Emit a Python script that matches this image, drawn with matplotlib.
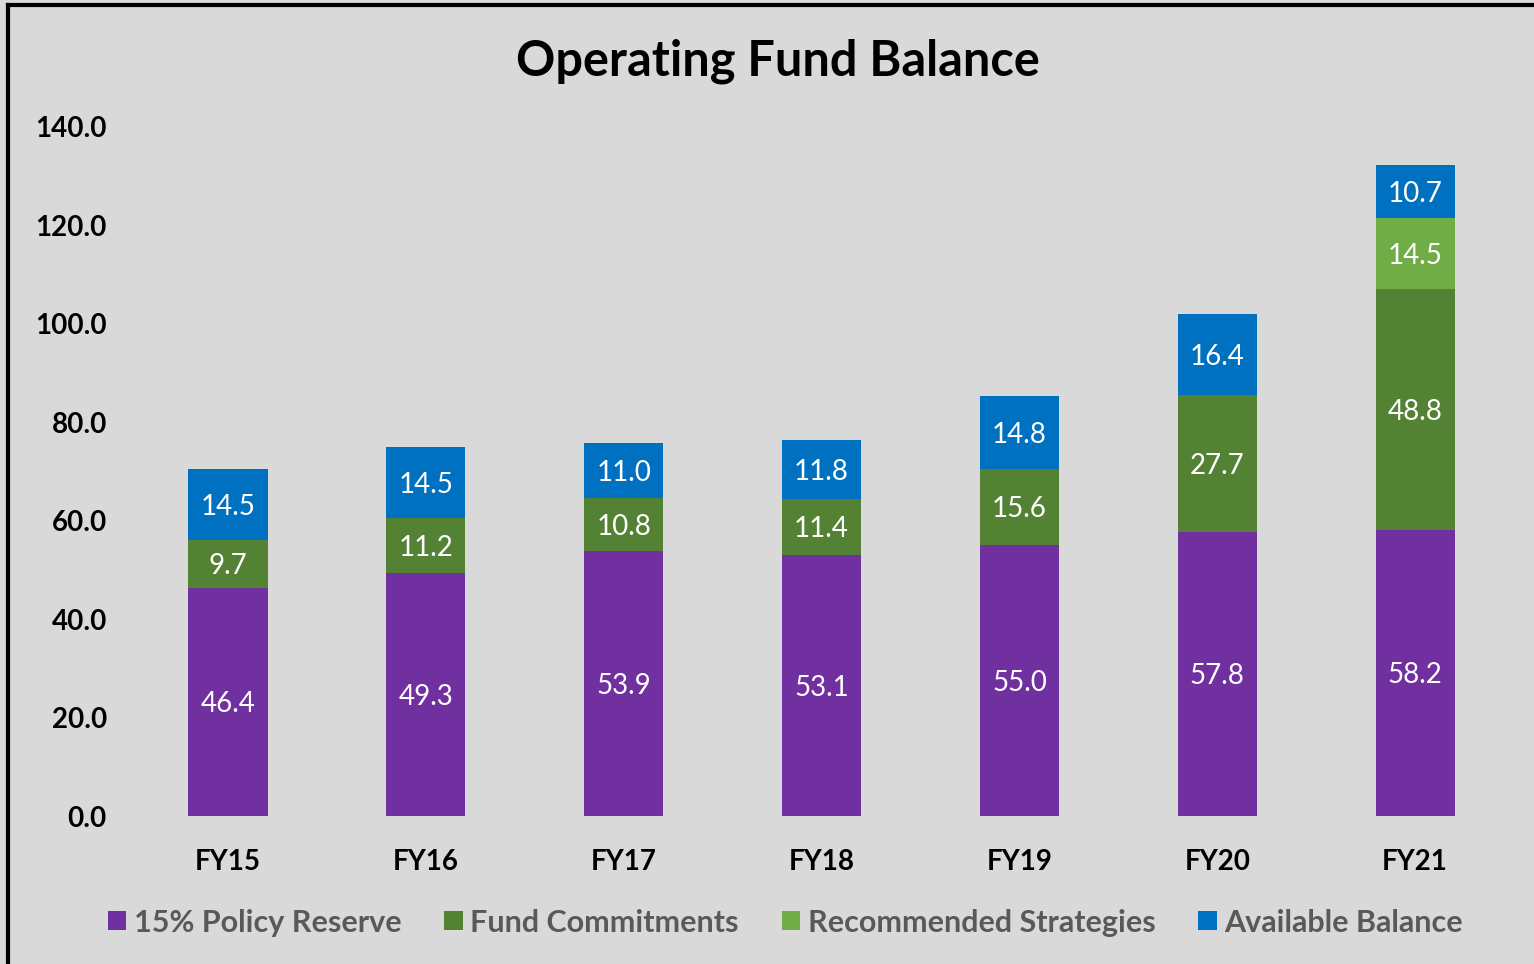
import matplotlib.pyplot as plt
from matplotlib.lines import Line2D
import numpy as np

years = ["FY15", "FY16", "FY17", "FY18", "FY19", "FY20", "FY21"]
policy_reserve = [46.4, 49.3, 53.9, 53.1, 55.0, 57.8, 58.2]
fund_commitments = [9.7, 11.2, 10.8, 11.4, 15.6, 27.7, 48.8]
recommended = [0, 0, 0, 0, 0, 0, 14.5]
available = [14.5, 14.5, 11.0, 11.8, 14.8, 16.4, 10.7]

series = [
    ("15% Policy Reserve", policy_reserve, "#7030A0"),
    ("Fund Commitments", fund_commitments, "#548235"),
    ("Recommended Strategies", recommended, "#70AD47"),
    ("Available Balance", available, "#0070C0"),
]

plt.rcParams['font.family'] = ['Lato', 'DejaVu Sans']
bg = "#D9D9D9"

fig = plt.figure(figsize=(15.34, 9.64), dpi=100, facecolor=bg)
ax = fig.add_axes([0.0841, 0.1535, 0.9029, 0.7148])
ax.set_facecolor(bg)

x = np.arange(len(years))
bottom = np.zeros(len(years))
for name, vals, color in series:
    vals = np.array(vals)
    ax.bar(x, vals, 0.40, bottom=bottom, color=color, label=name)
    for xi, b, v in zip(x, bottom, vals):
        if v > 0:
            ax.text(xi, b + v / 2, f"{v:.1f}", ha="center", va="center_baseline",
                    color="white", fontsize=20)
    bottom += vals

ax.set_xlim(-0.5, len(years) - 0.5)
ax.set_ylim(0, 140)
ax.set_yticks(np.arange(0, 141, 20))
ax.set_yticklabels([f"{v:.1f}" for v in np.arange(0, 141, 20)])
ax.set_xticks(x)
ax.set_xticklabels(years)
for lbl in ax.get_yticklabels() + ax.get_xticklabels():
    lbl.set_fontweight("bold")
    lbl.set_fontsize(20)
ax.tick_params(length=0)
ax.tick_params(axis="y", pad=16)
ax.tick_params(axis="x", pad=24)
for s in ax.spines.values():
    s.set_visible(False)

fig.text(0.507, 0.936, "Operating Fund Balance", ha="center", va="center",
         fontsize=35, fontweight="bold", color="black")

leg = fig.legend(loc="center", bbox_to_anchor=(0.512, 0.043), ncol=4, frameon=False,
                 handlelength=0.6, handleheight=0.6, handletextpad=0.25,
                 columnspacing=1.4, fontsize=22)
for t in leg.get_texts():
    t.set_color("#595959")
    t.set_fontweight("bold")

# frame around the chart area
fig.add_artist(Line2D([0.0052, 0.0052], [0, 0.995], color="black", lw=3))
fig.add_artist(Line2D([0.0052, 1.0], [0.995, 0.995], color="black", lw=3))

fig.savefig("out.png", dpi=100, facecolor=bg)
